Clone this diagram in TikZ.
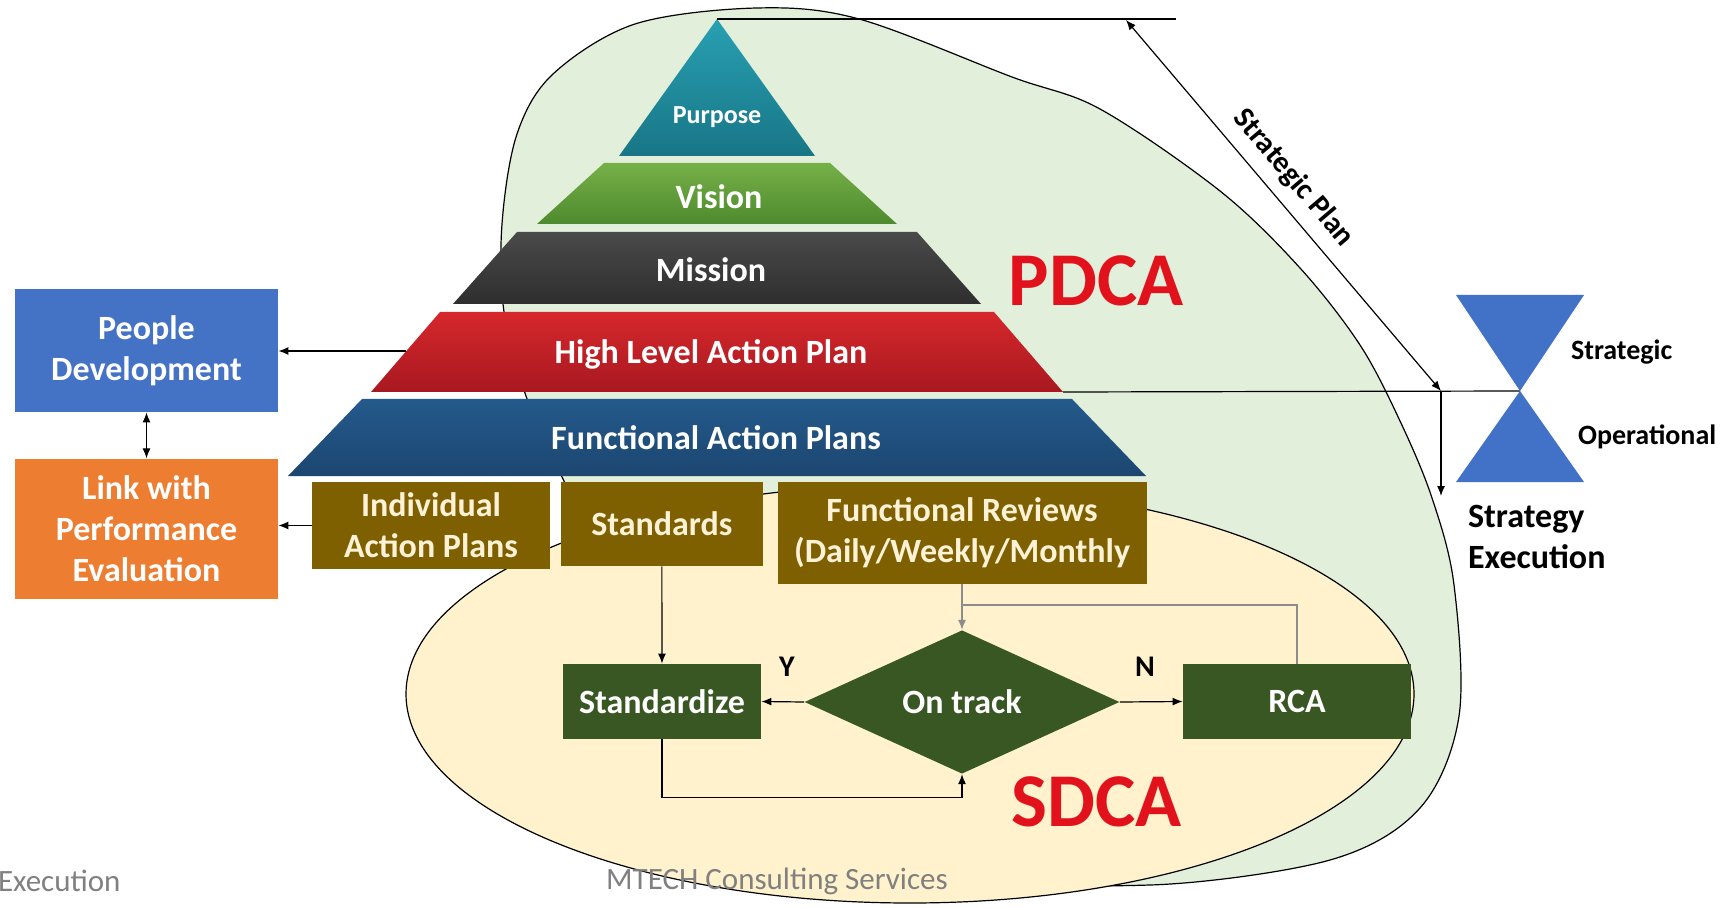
\documentclass[tikz,border=0pt]{standalone}
\usepackage{fontspec}
\setmainfont{Carlito}
\usetikzlibrary{positioning, calc, shapes.geometric}
\usetikzlibrary{arrows.meta}

\definecolor{purposetop}{RGB}{40,160,178}
\definecolor{purposebot}{RGB}{24,118,134}
\definecolor{visiontop}{RGB}{118,176,72}
\definecolor{visionbot}{RGB}{78,138,46}
\definecolor{missiontop}{RGB}{74,74,74}
\definecolor{missionbot}{RGB}{46,46,46}
\definecolor{hlaptop}{RGB}{214,40,44}
\definecolor{hlapbot}{RGB}{168,24,32}
\definecolor{faptop}{RGB}{36,90,140}
\definecolor{fapbot}{RGB}{28,70,112}
\definecolor{peopleblue}{RGB}{68,114,196}
\definecolor{linkorange}{RGB}{237,125,49}
\definecolor{brownfill}{RGB}{127,96,0}
\definecolor{creamtext}{RGB}{255,242,214}
\definecolor{greenfill}{RGB}{56,87,35}
\definecolor{pdcagreen}{RGB}{226,239,218}
\definecolor{sdcayellow}{RGB}{255,242,204}
\definecolor{cyclered}{RGB}{226,18,28}
\definecolor{hourblue}{RGB}{66,114,200}
\definecolor{footgray}{RGB}{128,128,128}

\tikzstyle{layertext}=[text=white,font=\bfseries\fontsize{17}{20}\selectfont]
\tikzstyle{sidebox}=[rectangle,text=white,align=center,inner sep=0pt,
minimum width=131.5pt,font=\bfseries\fontsize{17}{20.5}\selectfont]
\tikzstyle{brownbox}=[rectangle,fill=brownfill,text=creamtext,align=center,
inner sep=0pt,font=\bfseries\fontsize{17}{20.5}\selectfont]
\tikzstyle{greenbox}=[rectangle,fill=greenfill,text=white,inner sep=0pt,
minimum height=37.5pt,font=\bfseries\fontsize{17}{20}\selectfont]
\tikzstyle{decisionbox}=[diamond,fill=greenfill,text=white,inner sep=0pt,
minimum width=157.5pt,minimum height=60.5pt,font=\bfseries\fontsize{17}{20}\selectfont]
\tikzstyle{edgepath} = [-{Latex[length=5pt,width=4pt]},line width=0.6pt]
\tikzstyle{grayedge} = [edgepath,draw=black!45]
\tikzstyle{cyclelabel}=[text=cyclered,font=\bfseries\fontsize{38}{40}\selectfont]
\tikzstyle{sidelabel}=[anchor=west,font=\bfseries\fontsize{14}{17}\selectfont]
\tikzstyle{footer}=[text=footgray,font=\fontsize{15.5}{18}\selectfont]

\begin{document}
\begin{tikzpicture}[x=0.5pt,y=-0.5pt]
    \useasboundingbox (0,0) rectangle (1727,908);
    \fill[white] (0,0) rectangle (1727,908);

    % PDCA zone and SDCA zone
    \draw[fill=pdcagreen,line width=0.6pt] plot[smooth cycle,tension=0.55] coordinates {
        (1150,885) (1330,860) (1420,808) (1459,716) (1454,585) (1432,498)
        (1400,421) (1360,345) (1300,268) (1220,191) (1100,109) (1012,77)
        (859,19) (757,8) (635,24) (553,74) (517,134) (502,224) (504,312)
        (526,396) (563,479) (617,573) (771,771) (991,870)};
    \draw[fill=sdcayellow,line width=0.6pt] (910,694) ellipse [x radius=504,y radius=209];

    % pyramid
    \shade[top color=purposetop,bottom color=purposebot] (717,19) -- (815,156) -- (619,156) -- cycle;
    \shade[top color=visiontop,bottom color=visionbot] (604,163) -- (830,163) -- (897,224) -- (537,224) -- cycle;
    \shade[top color=missiontop,bottom color=missionbot] (517,232) -- (917,232) -- (981,304) -- (453,304) -- cycle;
    \shade[top color=hlaptop,bottom color=hlapbot] (440,312) -- (994,312) -- (1063,392) -- (371,392) -- cycle;
    \shade[top color=faptop,bottom color=fapbot] (362,399) -- (1072,399) -- (1146,476) -- (288,476) -- cycle;
    \node[layertext,font=\bfseries\fontsize{13}{15}\selectfont] (purpose) at (717,117) {Purpose};
    \node[layertext] (vision) at (719,197) {Vision};
    \node[layertext] (mission) at (711,270) {Mission};
    \node[layertext] (hlap) at (711,354) {High Level Action Plan};
    \node[layertext] (fap) at (716,438) {Functional Action Plans};

    % strategic plan lines
    \coordinate (apex) at (717,19);
    \coordinate (topend) at (1176,19);
    \coordinate (hlapw) at (406,351);
    \coordinate (hlapse) at (1063,392);
    \coordinate (hourmid) at (1520,391);
    \coordinate (sptop) at (1126,20);
    \coordinate (spbot) at (1441,391);
    \coordinate (exectip) at (1441,496);
    \coordinate (fbjoin) at (962,605);
    \draw[line width=0.6pt] (apex) -- (topend);
    \draw[line width=0.6pt] (hlapse) -- (hourmid);
    \draw[{Latex[length=5pt,width=4pt]}-{Latex[length=5pt,width=4pt]},line width=0.6pt]
    (sptop) -- node[sloped,above=2.5pt,pos=0.47,font=\bfseries\fontsize{15}{18}\selectfont] (splabel) {Strategic Plan} (spbot);
    \draw[edgepath] (spbot) -- (exectip);

    % hourglass
    \fill[hourblue] (1456,295) -- (1584,295) -- (1520,391) -- cycle;
    \fill[hourblue] (1520,391) -- (1584,482) -- (1456,482) -- cycle;
    \node[sidelabel] (strat) at (1564,352) {Strategic};
    \node[sidelabel] (oper) at (1571,437) {Operational};
    \node[sidelabel,align=left,font=\bfseries\fontsize{17}{20.5}\selectfont] (exec) at (1461,537) {Strategy\\Execution};

    % side boxes
    \node[sidebox,fill=peopleblue,minimum height=61.5pt] (people) at (146.5,350.5) {People\\Development};
    \node[sidebox,fill=linkorange,minimum height=70pt,below=23pt of people] (link) {Link with\\Performance\\Evaluation};

    % bottom row
    \node[brownbox,minimum width=119pt,minimum height=43.5pt] (indiv) at (431,525.5) {Individual\\Action Plans};
    \node[brownbox,minimum width=101pt,minimum height=42pt,right=5pt of indiv.north east,anchor=north west] (stds) {Standards};
    \node[brownbox,minimum width=184.5pt,minimum height=51pt,right=7pt of stds.north east,anchor=north west] (revs) {Functional Reviews\\(Daily/Weekly/Monthly};

    % SDCA loop
    \node[greenbox,minimum width=99pt] (stdz) at (662,701.5) {Standardize};
    \node[decisionbox] (dec) at (962,702) {On track};
    \node[greenbox,minimum width=114pt] (rca) at (1297,701.5) {RCA};
    \node[font=\bfseries\fontsize{15}{18}\selectfont] (ylab) at (787,667) {Y};
    \node[font=\bfseries\fontsize{15}{18}\selectfont] (nlab) at (1145,667) {N};

    \node[cyclelabel] (pdca) at (1096,281) {PDCA};
    \node[cyclelabel] (sdca) at (1097,802) {SDCA};

    \draw[edgepath] (hlapw) -- (people.east |- hlapw);
    \draw[{Latex[length=5pt,width=4pt]}-{Latex[length=5pt,width=4pt]},line width=0.6pt] (people) -- (link);
    \path[edgepath]
    (indiv.west) edge (link.east |- indiv.west)
    (stds) edge (stdz)
    (dec.west) edge (stdz.east)
    (dec.east) edge (rca.west);
    \draw[grayedge] (dec.north |- revs.south) -- (dec.north);
    \draw[line width=0.6pt,draw=black!45] (rca.north) |- (fbjoin);
    \draw[edgepath] (stdz.south) -- ++(0,58) -| (dec.south);

    % footer
    \node[footer,anchor=west] (foot1) at (-9,881) {Execution};
    \node[footer] (foot2) at (777,881) {MTECH Consulting Services};
\end{tikzpicture}
\end{document}
